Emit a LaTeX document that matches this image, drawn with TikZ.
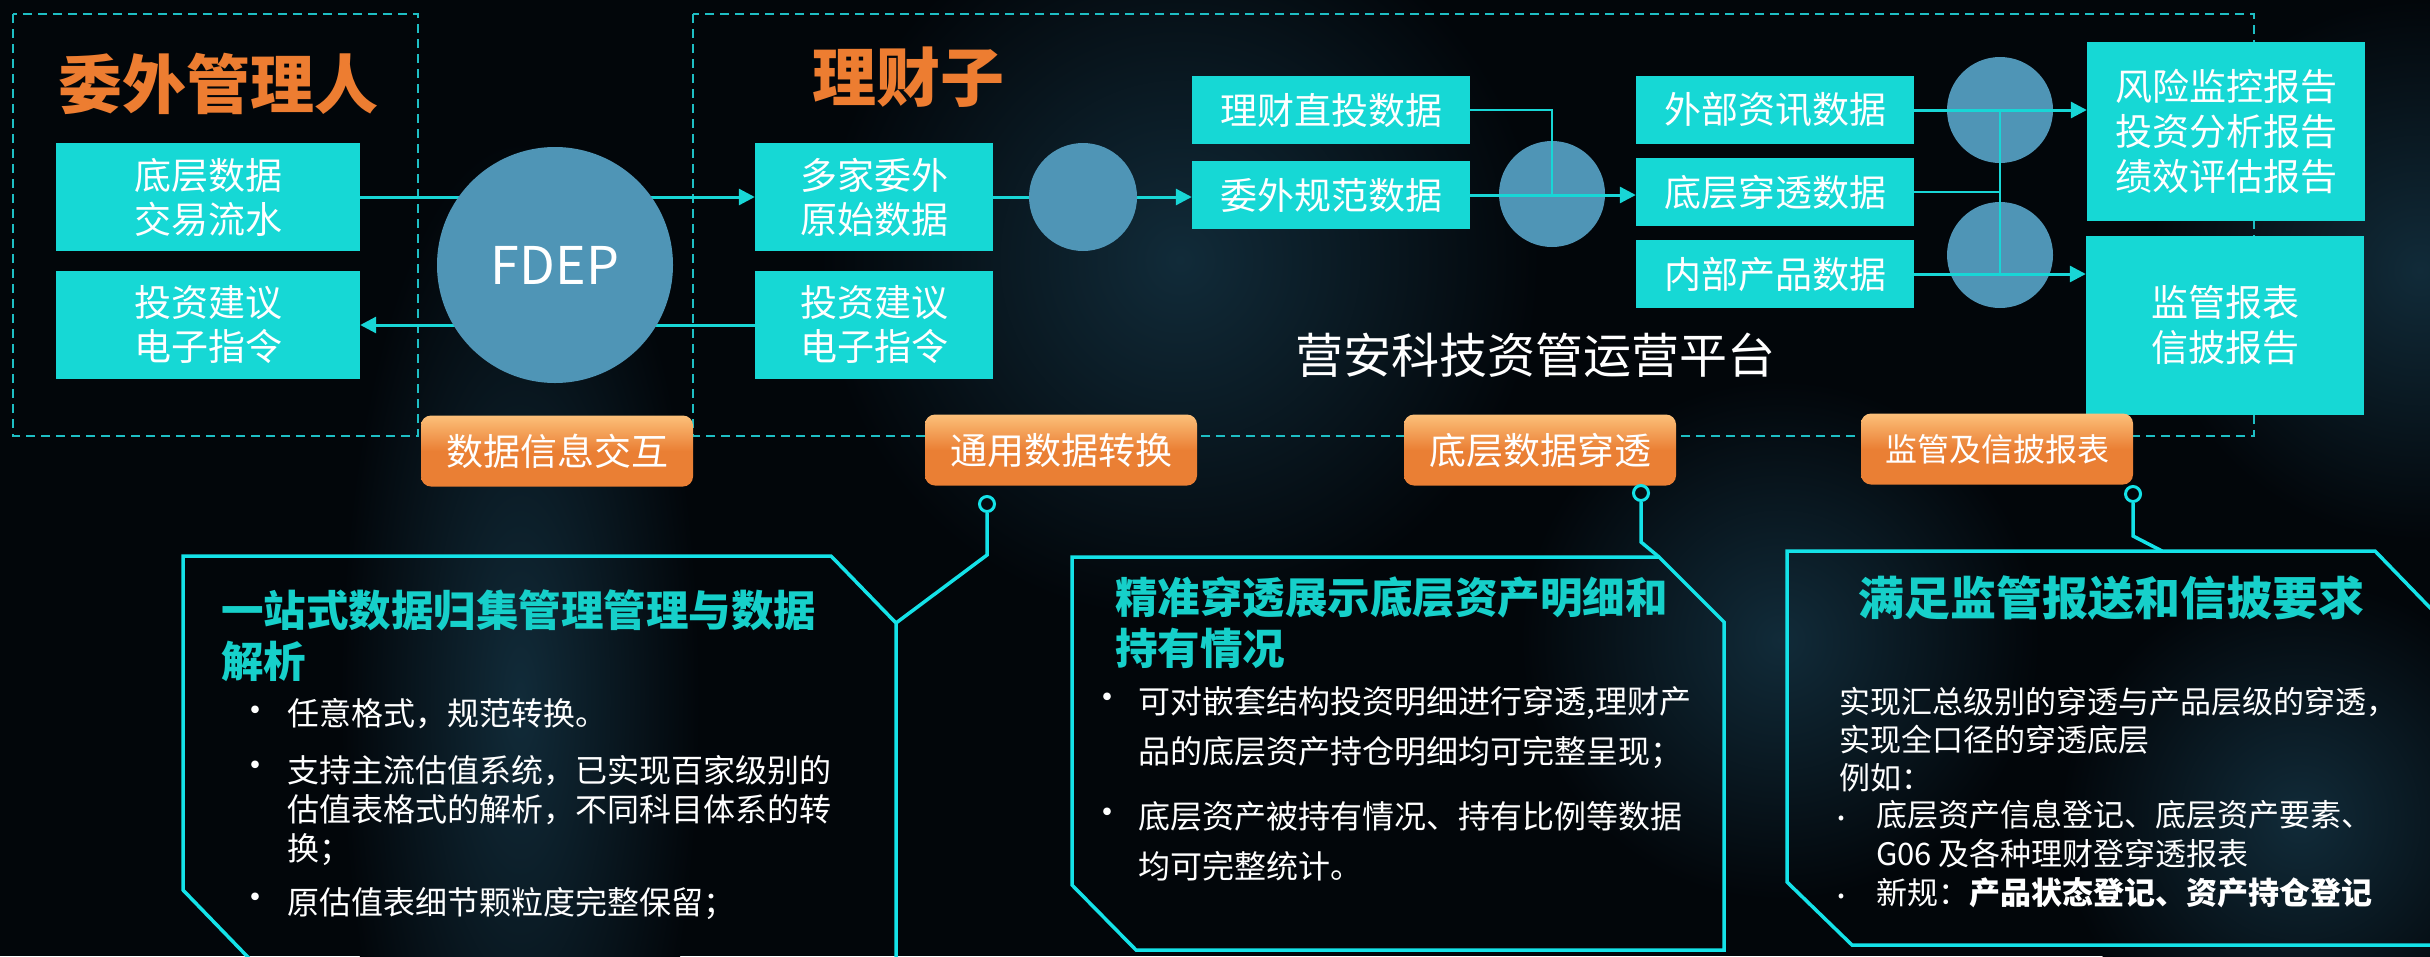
\documentclass[tikz,border=0pt]{standalone}
\usepackage{fontspec}
\setmainfont{Noto Sans CJK SC}
\usepackage{tikz}
\usetikzlibrary{arrows.meta}
\usetikzlibrary{positioning}
\usepackage{xcolor}

\definecolor{bgdark}{RGB}{2,6,10}
\definecolor{glow}{RGB}{17,43,57}
\definecolor{boxcyan}{RGB}{22,216,213}
\definecolor{linecyan}{RGB}{24,214,214}
\definecolor{dashcyan}{RGB}{30,190,196}
\definecolor{panelcyan}{RGB}{20,226,232}
\definecolor{titlecyan}{RGB}{22,208,202}
\definecolor{ballblue}{RGB}{79,149,182}
\definecolor{titleorange}{RGB}{237,125,49}
\definecolor{btnorange}{RGB}{234,127,52}
\definecolor{btnlight}{RGB}{252,192,122}

\tikzset{
  databox/.style={fill=boxcyan, text=white, inner sep=0pt, align=center,
    minimum width=278pt, minimum height=68pt, font=\fontsize{37}{44}\selectfont},
  widebox/.style={databox, minimum width=304pt, minimum height=108pt},
  midbox/.style={databox, minimum width=238pt, minimum height=108pt},
  reportbox/.style={databox, minimum height=179pt, font=\fontsize{37}{45}\selectfont},
  ball/.style={circle, fill=ballblue, inner sep=0pt, minimum size=106pt},
  link/.style={draw=linecyan, line width=3pt, -{Triangle[length=16pt,width=16pt]}},
  thinlink/.style={draw=linecyan, line width=2pt},
  zone/.style={draw=dashcyan, line width=2pt, dash pattern=on 9pt off 6pt},
  bigtitle/.style={text=titleorange, font=\bfseries\fontsize{64}{70}\selectfont, inner sep=0pt},
  tagbtn/.style={rounded corners=10pt, top color=btnlight, bottom color=btnorange,
    middle color=btnorange, text=white, inner sep=0pt, minimum width=272pt,
    minimum height=71pt, font=\fontsize{37}{44}\selectfont},
  panelline/.style={draw=panelcyan, line width=3.5pt, line join=miter},
  pinring/.style={circle, draw=panelcyan, line width=3pt, inner sep=0pt, minimum size=15pt},
  paneltitle/.style={text=titlecyan, font=\bfseries\fontsize{42.5}{51}\selectfont,
    align=left, anchor=north west, inner sep=0pt},
  paneltext/.style={text=white, font=\fontsize{32}{39}\selectfont, align=left,
    anchor=north west, inner sep=0pt},
  dotmark/.style={text=white, font=\fontsize{36}{40}\selectfont, inner sep=0pt},
}

\begin{document}
\begin{tikzpicture}[x=1pt, y=-1pt]
  \useasboundingbox (0,0) rectangle (2430,956);
  \clip (0,0) rectangle (2430,956);
  \fill[bgdark] (0,0) rectangle (2430,956);
  \shade[inner color=glow, outer color=bgdark] (520,700) ellipse (180 and 560);
  \shade[inner color=glow, outer color=bgdark] (1180,260) circle (360);
  \shade[inner color=glow, outer color=bgdark] (1780,640) circle (260);
  \shade[inner color=glow, outer color=bgdark] (2420,270) circle (270);
  \shade[inner color=glow, outer color=bgdark] (2300,820) circle (240);

  \draw[zone] (13,14) rectangle (418,436);
  \draw[zone] (693,14) rectangle (2254,436);

  \node[bigtitle] (wtitle) at (218,84) {委外管理人};
  \node[bigtitle] (ltitle) at (908,77) {理财子};

  \node[widebox] (bot) at (208,197) {底层数据\\交易流水};
  \node[widebox] (advl) at (208,325) {投资建议\\电子指令};
  \node[midbox] (raw) at (874,197) {多家委外\\原始数据};
  \node[midbox] (advr) at (874,325) {投资建议\\电子指令};
  \node[databox] (direct) at (1331,110) {理财直投数据};
  \node[databox] (norm) at (1331,195) {委外规范数据};
  \node[databox] (ext) at (1775,110) {外部资讯数据};
  \node[databox] (pen) at (1775,192) {底层穿透数据};
  \node[databox] (inner) at (1775,274) {内部产品数据};
  \node[reportbox] (risk) at (2226,131) {风险监控报告\\投资分析报告\\绩效评估报告};
  \node[reportbox] (reg) at (2225,325) {监管报表\\信披报告};
  \node[text=white, font=\fontsize{48}{56}\selectfont] (platform) at (1535,355) {营安科技资管运营平台};

  \draw[link] (bot.east) -- (raw.west);
  \draw[link] (advr.west) -- (advl.east);
  \draw[link] (raw.east) -- (raw.east -| norm.west);

  \node[ball, minimum size=236pt, text=white, font=\fontsize{52}{56}\selectfont] (fdep) at (555,265) {FDEP};
  \node[ball, minimum size=108pt] (c1) at (1083,197) {};
  \node[ball] (c2) at (1552,194) {};
  \node[ball] (c3) at (2000,110) {};
  \node[ball] (c4) at (2000,255) {};

  \draw[thinlink] (direct.east) -| (norm.east -| c2.center);
  \draw[link] (norm.east) -- (norm.east -| pen.west);
  \draw[link] (ext.east) -- (ext.east -| risk.west);
  \draw[link] (inner.east) -- (inner.east -| reg.west);
  \draw[thinlink] (pen.east) -- (pen.east -| c3.center);
  \draw[thinlink] (ext.east -| c3.center) -- (inner.east -| c3.center);

  \node[tagbtn] (tag1) at (557,451) {数据信息交互};
  \node[tagbtn] (tag2) at (1061,450) {通用数据转换};
  \node[tagbtn] (tag3) at (1540,450) {底层数据穿透};
  \node[tagbtn, font=\fontsize{32}{40}\selectfont] (tag4) at (1997,449) {监管及信披报表};

  \draw[panelline] (896,980) -- (896,623) coordinate (p1tip) -- (831,556) -- (183,556) -- (183,890) -- (272,982);
  \draw[panelline] (1072,557) -- (1659,557) coordinate (p2tip) -- (1724,622) -- (1724,950) -- (1136,950) -- (1072,885) -- cycle;
  \draw[panelline] (2470,945) -- (1852,945) -- (1787,882) -- (1787,551) -- (2375,551) -- (2470,649);
  \coordinate (p3join) at (2162,551);

  \node[pinring] (pin2) at (987,504) {};
  \draw[panelline] (pin2.south) -- ++(0,42) -- (p1tip);
  \node[pinring] (pin3) at (1641,493) {};
  \draw[panelline] (pin3.south) -- ++(0,40) -- (p2tip);
  \node[pinring] (pin4) at (2133,494) {};
  \draw[panelline] (pin4.south) -- ++(0,33) -- (p3join);

  \node[paneltitle] (t1) at (221,590) {一站式数据归集管理管理与数据\\解析};
  \node[paneltext] (t1a) at (287,698) {任意格式，规范转换。};
  \node[paneltext] (t1b) at (287,755) {支持主流估值系统，已实现百家级别的\\估值表格式的解析，不同科目体系的转\\换；};
  \node[paneltext] (t1c) at (287,887) {原估值表细节颗粒度完整保留；};
  \foreach \y in {715,770,902}
    \node[dotmark] (dot1-\y) at (255,\y) {•};

  \node[paneltitle] (t2) at (1115,576) {精准穿透展示底层资产明细和\\持有情况};
  \node[paneltext, font=\fontsize{32}{50}\selectfont] (t2a) at (1138,686) {可对嵌套结构投资明细进行穿透,理财产\\品的底层资产持仓明细均可完整呈现；};
  \node[paneltext, font=\fontsize{32}{50}\selectfont] (t2b) at (1138,801) {底层资产被持有情况、持有比例等数据\\均可完整统计。};
  \foreach \y in {702,817}
    \node[dotmark] (dot2-\y) at (1107,\y) {•};

  \node[paneltitle, font=\bfseries\fontsize{46}{52}\selectfont] (t3) at (1858,575) {满足监管报送和信披要求};
  \node[paneltext, font=\fontsize{31}{38}\selectfont] (t3a) at (1839,687) {实现汇总级别的穿透与产品层级的穿透，\\实现全口径的穿透底层\\例如：};
  \node[paneltext, font=\fontsize{31}{39}\selectfont] (t3b) at (1876,800) {底层资产信息登记、底层资产要素、\\G06 及各种理财登穿透报表\\新规：\textbf{产品状态登记、资产持仓登记}};
  \foreach \y in {818,896}
    \node[dotmark] (dot3-\y) at (1841,\y) {.};
\end{tikzpicture}
\end{document}
